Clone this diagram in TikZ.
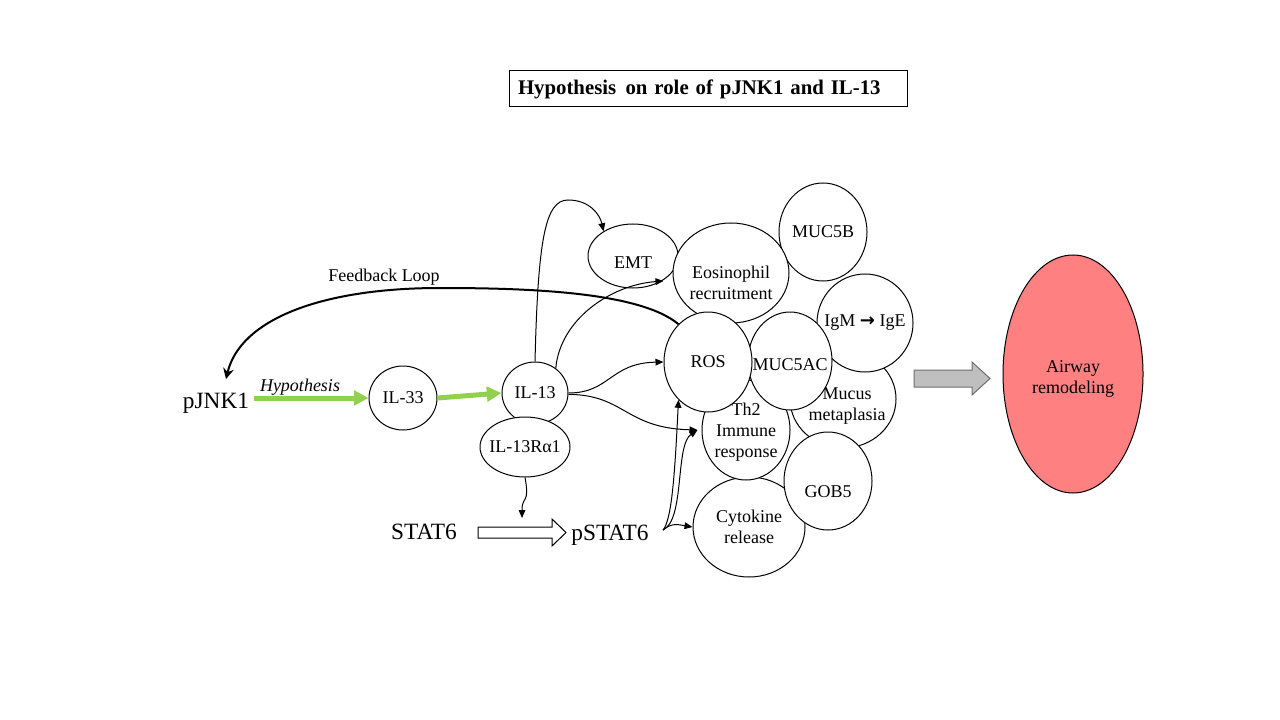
\documentclass[tikz,border=0pt]{standalone}
\usepackage{fontspec}
\setmainfont{Liberation Serif}
\newfontfamily\symfont{DejaVu Sans}
\usetikzlibrary{shapes.geometric,arrows.meta}

\definecolor{hypgreen}{RGB}{146,208,80}
\definecolor{airwayred}{RGB}{255,128,128}
\definecolor{blockgray}{RGB}{191,191,191}
\definecolor{arrowgray}{RGB}{110,110,110}

\newcommand{\bubblefont}{\fontsize{13.5}{15.75}\selectfont}
\newcommand{\bigfont}{\fontsize{17.5}{20}\selectfont}
\newcommand{\titlefont}{\fontsize{15.6}{19}\selectfont\bfseries}

\tikzset{
  bubble/.style 2 args={ellipse,draw,fill=white,line width=0.75pt,inner sep=0pt,
    minimum width=#1*1.5pt,minimum height=#2*1.5pt},
  bubtext/.style={align=center,font=\bubblefont,inner sep=0pt},
  link/.style={-{Triangle[length=6pt,width=5pt]},line width=0.75pt},
  hyparrow/.style={-{Triangle[length=11pt,width=11pt]},line width=3.75pt,draw=hypgreen},
  feedback/.style={-{Stealth[length=8pt,width=8pt]},line width=1.5pt}
}

\begin{document}
\begin{tikzpicture}[x=0.75pt,y=-0.75pt]
  \useasboundingbox (0,0) rectangle (1280,720);
  % title
  \node[draw,line width=0.75pt,text width=285pt,inner xsep=6.75pt,minimum height=27pt,
    align=left,font=\titlefont] (title) at (708,89) {Hypothesis\hspace{7pt}on role of pJNK1 and IL-13};

  % left chain
  \node[font=\bigfont] (pjnk) at (216,403) {pJNK1};
  \node[bubble={34}{32},label={[bubtext]center:IL-33}] (il33) at (403,398) {};
  \node[bubble={33}{31},label={[bubtext]center:IL-13}] (il13) at (535,393) {};
  \node[bubble={45}{30},label={[bubtext]center:IL-13Rα1}] (il13r) at (525,447) {};
  \node[font=\bigfont] (stat) at (424,532) {STAT6};
  \node[font=\bigfont] (pstat) at (610,535) {pSTAT6};

  % effects (drawn bottom to top)
  \node[bubble={45}{32},label={[bubtext,yshift=-5pt]center:EMT}] (emt) at (633,256) {};
  \node[bubble={44}{49},label={[bubtext]center:MUC5B}] (muc5b) at (823,232) {};
  \node[bubble={58}{50},label={[bubtext,yshift=-7.5pt]center:Eosinophil\\recruitment}] (eos) at (731,273) {};
  \node[bubble={53}{49},label={[bubtext,xshift=3pt,yshift=-5pt]center:Mucus\\metaplasia}] (mucus) at (843,399) {};
  \node[bubble={48}{49},label={[bubtext]center:IgM {\symfont\bfseries →} IgE}] (igm) at (865,323) {};
  \node[bubble={56}{50},label={[bubtext]center:Cytokine\\release}] (cyt) at (749,527) {};
  \node[bubble={44}{50},label={[bubtext,yshift=-2pt]center:Th2\\Immune\\response}] (th2) at (746,430) {};
  \node[bubble={44}{49},label={[bubtext,yshift=-8pt]center:GOB5}] (gob5) at (828,481) {};
  \node[bubble={42}{49},label={[bubtext,yshift=-3pt]center:MUC5AC}] (muc5ac) at (790,361) {};
  \node[bubble={44}{50},label={[bubtext]center:ROS}] (ros) at (708,362) {};

  % outcome
  \node[bubble={70}{119},fill=airwayred,label={[bubtext,yshift=-4pt]center:Airway\\remodeling}] (airway) at (1073,374) {};

  % hypothesis path
  \draw[hyparrow] (pjnk.east |- il33.west) -- (il33.west);
  \draw[hyparrow] (il33.east) -- (il13.west);
  \node[font=\bubblefont\itshape] (hyp) at (300,387) {Hypothesis};

  % feedback loop
  \coordinate (fbtop) at (440,288);
  \draw[feedback] (ros.128) .. controls (640,292) and (530,288) .. (fbtop)
    .. controls (320,288) and (240,320) .. ([shift={(10,-9)}]pjnk.north);
  \node[font=\bubblefont] (fblabel) at (384,277) {Feedback Loop};

  % IL-13 targets
  \draw[link] (il13.north) .. controls (538,240) and (545,200) .. (568,200)
    .. controls (590,200) and (600,215) .. (emt.140);
  \draw[link] (il13.50) .. controls (560,320) and (610,285) .. ([shift={(-9,8)}]eos.west);
  \draw[link] (il13.east) .. controls (610,393) and (610,363) .. (ros.west);
  \draw[link] ([yshift=-1pt]il13.east) .. controls (625,395) and (625,428) .. ([xshift=-3pt]th2.west);

  % receptor and STAT6
  \coordinate (phos) at (522,518);
  \draw[link] (il13r.south) .. controls (530,505) and (522,495) .. (phos);
  \draw[line width=0.75pt] (478,527) -- (552,527) -- (552,519) -- (566,532.5)
    -- (552,546) -- (552,538) -- (478,538) -- cycle;

  % pSTAT6 targets
  \coordinate (fork) at (663,530);
  \draw[link] (fork) .. controls (672,520) and (675,470) .. (ros.-128);
  \draw[link] (fork) .. controls (685,520) and (675,445) .. ([xshift=-3pt]th2.west);
  \draw[link] (fork) .. controls (672,522) and (680,525) .. (cyt.west);

  % to airway remodeling
  \draw[draw=arrowgray,fill=blockgray,line width=0.75pt] (914,370) -- (972,370) -- (972,362)
    -- (990,378.5) -- (972,395) -- (972,387) -- (914,387) -- cycle;
\end{tikzpicture}
\end{document}
